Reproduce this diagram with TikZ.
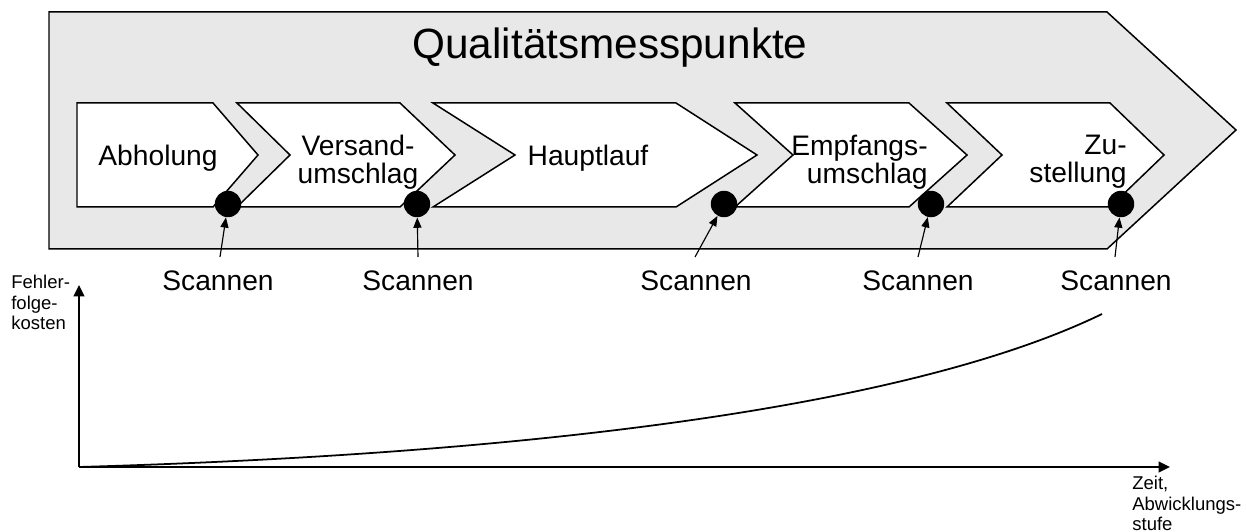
\documentclass[tikz,border=0pt]{standalone}
\usepackage{fontspec}
\setmainfont{Liberation Sans}
\usetikzlibrary{arrows.meta}
\definecolor{panelgray}{HTML}{E8E8E8}

\tikzset{
  outline/.style={draw=black, line width=0.85pt, line join=miter},
  panel/.style={outline, fill=panelgray},
  chevbox/.style={outline, fill=white},
  scandot/.style={circle, fill=black, draw=none, minimum size=15pt, inner sep=0pt},
  biglbl/.style={font=\fontsize{24}{26}\selectfont, inner sep=0pt},
  steplbl/.style={font=\fontsize{16}{16}\selectfont, inner sep=0pt},
  smalllbl/.style={font=\fontsize{10.5}{11.5}\selectfont, inner sep=0pt, align=left, anchor=north west},
  scanarrow/.style={-{Triangle[length=5.8pt,width=4.6pt]}, line width=0.65pt},
  axisline/.style={-{Triangle[length=6.5pt,width=6pt]}, line width=1.5pt},
  costcurve/.style={line width=1pt}
}

\begin{document}
\begin{tikzpicture}[x=0.5675pt, y=-0.5675pt]
\useasboundingbox (0,0) rectangle (1246,532);

% big process arrow in the background
\path[panel] (49,12) -- (1107,12) -- (1236,130) -- (1107,249) -- (49,249) -- cycle;
\node[biglbl, anchor=base] (title) at (610,59) {Qualitätsmesspunkte};

% process steps
\path[chevbox] (77,103) -- (213,103) -- (258,155) -- (213,207) -- (77,207) -- cycle;
\path[chevbox] (237,103) -- (400,103) -- (455,155) -- (400,207) -- (237,207) -- (290,155) -- cycle;
\path[chevbox] (433,103) -- (676,103) -- (757,155) -- (676,207) -- (433,207) -- (515,155) -- cycle;
\path[chevbox] (735,103) -- (909,103) -- (967,155) -- (909,207) -- (735,207) -- (793,155) -- cycle;
\path[chevbox] (947,103) -- (1110,103) -- (1164,155) -- (1110,207) -- (947,207) -- (1002,155) -- cycle;

\node[steplbl, anchor=base] (abh) at (158,166) {Abholung};
\node[steplbl, align=center] (vers) at (358,162) {Versand-\\umschlag};
\node[steplbl, anchor=base] (haupt) at (588,166) {Hauptlauf};
\node[steplbl, align=right, anchor=east] (empf) at (928,162) {Empfangs-\\umschlag};
\node[steplbl, align=right, anchor=east] (zust) at (1127,162) {Zu-\\stellung};

% measuring points
\node[scandot] (d1) at (228,204) {};
\node[scandot] (d2) at (417,204) {};
\node[scandot] (d3) at (724,204) {};
\node[scandot] (d4) at (931,204) {};
\node[scandot] (d5) at (1121,204) {};

% scan labels and pointers
\node[steplbl, anchor=base] (s1) at (218,291) {Scannen};
\node[steplbl, anchor=base] (s2) at (418,291) {Scannen};
\node[steplbl, anchor=base] (s3) at (696,291) {Scannen};
\node[steplbl, anchor=base] (s4) at (918,291) {Scannen};
\node[steplbl, anchor=base] (s5) at (1116,291) {Scannen};

\coordinate (a1) at (220,257);
\coordinate (a2) at (418,257);
\coordinate (a3) at (695,257);
\coordinate (a4) at (918,257);
\coordinate (a5) at (1115,257);
\draw[scanarrow] (a1) -- (d1);
\draw[scanarrow] (a2) -- (d2);
\draw[scanarrow] (a3) -- (d3);
\draw[scanarrow] (a4) -- (d4);
\draw[scanarrow] (a5) -- (d5);

% cost diagram
\coordinate (orig) at (79,467);
\coordinate (ytop) at (79,285);
\coordinate (xend) at (1170,467);
\coordinate (cend) at (1102,314);
\draw[axisline] (orig) -- (ytop);
\draw[axisline] (orig) -- (xend);
\draw[costcurve] (orig) .. controls (500,455) and (900,412) .. (cend);

\node[smalllbl] (ylbl) at (11,275) {Fehler-\\folge-\\kosten};
\node[smalllbl] (xlbl) at (1132,476) {Zeit,\\Abwicklungs-\\stufe};
\end{tikzpicture}
\end{document}
